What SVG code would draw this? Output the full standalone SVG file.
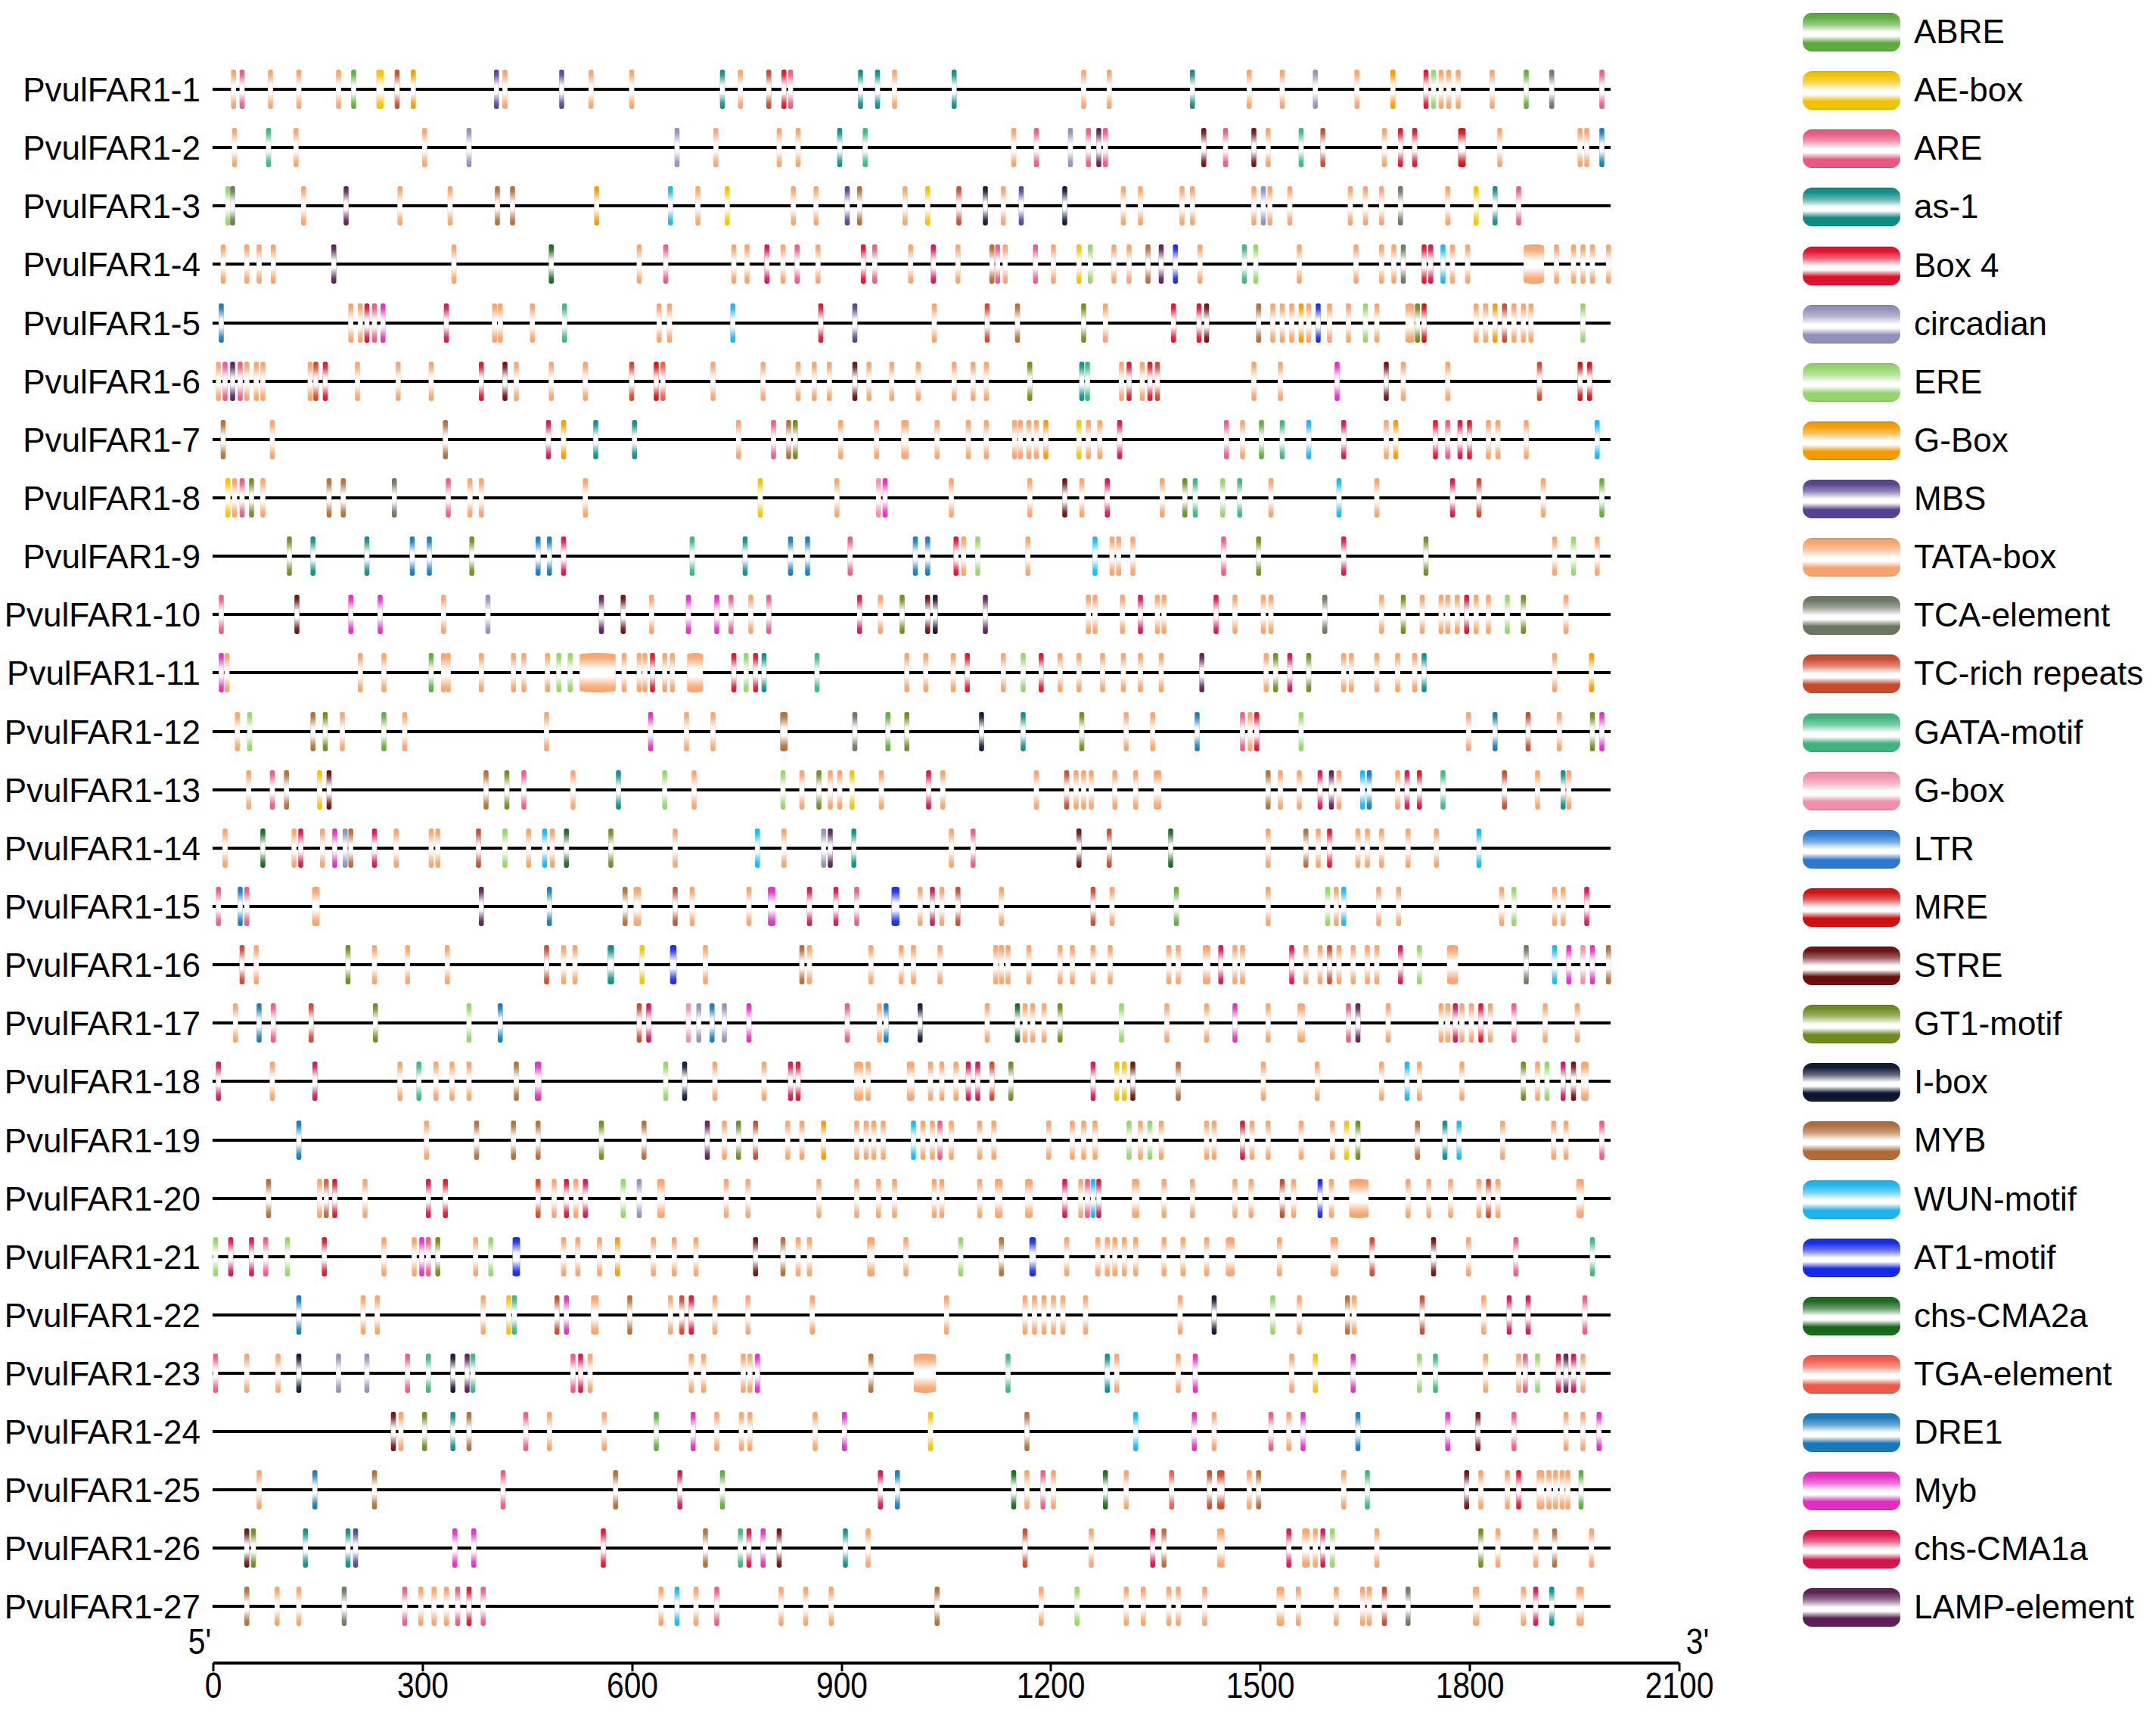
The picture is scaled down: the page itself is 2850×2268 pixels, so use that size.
<svg xmlns="http://www.w3.org/2000/svg" xmlns:xlink="http://www.w3.org/1999/xlink" width="2850" height="2268" viewBox="0 0 2850 2268">
<style>
text{font-family:"Liberation Sans",Arial,sans-serif;fill:#000}
.lb{font-size:44px;text-anchor:end}
.lg{font-size:44px}
.ax{font-size:48px;text-anchor:middle}
.ln{stroke:#000;stroke-width:4}
.a{fill:#5cab3c}.b{fill:#f2c200}.c{fill:#e85a80}.d{fill:#0e8c84}.e{fill:#e0102a}.f{fill:#9090b8}.g{fill:#94d46a}.h{fill:#f59a00}.i{fill:#54428f}.j{fill:#f6a36c}.k{fill:#6a7560}.l{fill:#c8482a}.m{fill:#3cb47c}.n{fill:#f090aa}.o{fill:#2a78d0}.p{fill:#cc1010}.q{fill:#6a0e0e}.r{fill:#6d8a1e}.s{fill:#0c1530}.t{fill:#b06c38}.u{fill:#1cb4ec}.v{fill:#1428e8}.w{fill:#18661c}.x{fill:#f05848}.y{fill:#1678b8}.z{fill:#e02cc0}.A{fill:#d4144c}.B{fill:#5a1e52}
</style>
<defs>
<linearGradient id="wg" x1="0" y1="0" x2="0" y2="1">
<stop offset="0" stop-color="#fff" stop-opacity="0"/>
<stop offset="0.14" stop-color="#fff" stop-opacity="0.12"/>
<stop offset="0.41" stop-color="#fff" stop-opacity="1"/>
<stop offset="0.59" stop-color="#fff" stop-opacity="1"/>
<stop offset="0.86" stop-color="#fff" stop-opacity="0.12"/>
<stop offset="1" stop-color="#fff" stop-opacity="0"/>
</linearGradient>
<linearGradient id="lgw" x1="0" y1="0" x2="0" y2="1">
<stop offset="0" stop-color="#000" stop-opacity="0.15"/>
<stop offset="0.1" stop-color="#fff" stop-opacity="0"/>
<stop offset="0.3" stop-color="#fff" stop-opacity="0.35"/>
<stop offset="0.5" stop-color="#fff" stop-opacity="1"/>
<stop offset="0.6" stop-color="#fff" stop-opacity="1"/>
<stop offset="0.78" stop-color="#fff" stop-opacity="0"/>
<stop offset="0.92" stop-color="#fff" stop-opacity="0"/>
<stop offset="1" stop-color="#000" stop-opacity="0.15"/>
</linearGradient>
<g id="mk"><rect x="-2.6" y="-26" width="5.2" height="52" rx="2.4"/><rect x="-2.6" y="-26" width="5.2" height="52" rx="2.4" fill="url(#wg)"/></g>
</defs>
<rect width="2850" height="2268" fill="#fff"/>

<g id="rows">
<g id="row-1"><text class="lb" x="265" y="134">PvulFAR1-1</text><line class="ln" x1="281" y1="118" x2="2129" y2="118"/>
<g transform="translate(270 118) scale(1.25 1)">
<use href="#mk" x="31" class="j"/><use href="#mk" x="40" class="c"/><use href="#mk" x="70" class="j"/><use href="#mk" x="100" class="j"/><use href="#mk" x="142" class="j"/><use href="#mk" x="158" class="a"/><use href="#mk" class="b" transform="translate(186 0) scale(1.5 1)"/><use href="#mk" x="204" class="l"/><use href="#mk" x="221" class="h"/><use href="#mk" x="309" class="i"/><use href="#mk" x="318" class="j"/><use href="#mk" x="378" class="i"/><use href="#mk" x="409" class="j"/><use href="#mk" x="452" class="j"/><use href="#mk" x="548" class="d"/><use href="#mk" x="567" class="j"/><use href="#mk" x="597" class="l"/><use href="#mk" x="613" class="e"/><use href="#mk" x="620" class="c"/><use href="#mk" x="694" class="d"/><use href="#mk" x="712" class="d"/><use href="#mk" x="730" class="j"/><use href="#mk" x="793" class="d"/><use href="#mk" x="930" class="j"/><use href="#mk" x="957" class="j"/><use href="#mk" x="1045" class="d"/><use href="#mk" x="1105" class="j"/><use href="#mk" x="1140" class="j"/><use href="#mk" x="1175" class="f"/><use href="#mk" x="1219" class="j"/><use href="#mk" x="1257" class="h"/><use href="#mk" x="1292" class="e"/><use href="#mk" x="1300" class="g"/><use href="#mk" x="1308" class="j"/><use href="#mk" x="1316" class="j"/><use href="#mk" x="1326" class="j"/><use href="#mk" x="1362" class="j"/><use href="#mk" x="1398" class="a"/><use href="#mk" x="1425" class="k"/><use href="#mk" x="1478" class="c"/>
</g></g>

<g id="row-2"><text class="lb" x="265" y="211">PvulFAR1-2</text><line class="ln" x1="281" y1="195" x2="2129" y2="195"/>
<g transform="translate(270 195) scale(1.25 1)">
<use href="#mk" x="32" class="j"/><use href="#mk" x="68" class="m"/><use href="#mk" x="97" class="j"/><use href="#mk" x="233" class="j"/><use href="#mk" x="280" class="f"/><use href="#mk" x="500" class="f"/><use href="#mk" x="541" class="j"/><use href="#mk" x="608" class="j"/><use href="#mk" x="628" class="j"/><use href="#mk" x="672" class="d"/><use href="#mk" x="699" class="m"/><use href="#mk" x="856" class="j"/><use href="#mk" x="880" class="c"/><use href="#mk" x="916" class="f"/><use href="#mk" x="935" class="c"/><use href="#mk" x="946" class="B"/><use href="#mk" x="953" class="c"/><use href="#mk" x="1057" class="q"/><use href="#mk" x="1080" class="c"/><use href="#mk" x="1110" class="q"/><use href="#mk" x="1125" class="j"/><use href="#mk" x="1160" class="m"/><use href="#mk" x="1183" class="l"/><use href="#mk" x="1248" class="j"/><use href="#mk" x="1265" class="e"/><use href="#mk" x="1280" class="e"/><use href="#mk" class="p" transform="translate(1330 0) scale(1.5 1)"/><use href="#mk" x="1370" class="j"/><use href="#mk" x="1455" class="j"/><use href="#mk" x="1462" class="j"/><use href="#mk" x="1478" class="y"/>
</g></g>

<g id="row-3"><text class="lb" x="265" y="288">PvulFAR1-3</text><line class="ln" x1="281" y1="272" x2="2129" y2="272"/>
<g transform="translate(270 272) scale(1.25 1)">
<use href="#mk" x="25" class="g"/><use href="#mk" x="30" class="k"/><use href="#mk" x="105" class="j"/><use href="#mk" x="150" class="B"/><use href="#mk" x="207" class="j"/><use href="#mk" x="260" class="j"/><use href="#mk" x="310" class="t"/><use href="#mk" x="326" class="t"/><use href="#mk" x="415" class="h"/><use href="#mk" x="493" class="u"/><use href="#mk" x="522" class="j"/><use href="#mk" x="553" class="b"/><use href="#mk" x="623" class="j"/><use href="#mk" x="647" class="j"/><use href="#mk" x="680" class="i"/><use href="#mk" x="693" class="t"/><use href="#mk" x="741" class="j"/><use href="#mk" x="765" class="b"/><use href="#mk" x="798" class="l"/><use href="#mk" x="826" class="s"/><use href="#mk" x="845" class="j"/><use href="#mk" x="864" class="i"/><use href="#mk" x="910" class="s"/><use href="#mk" x="972" class="j"/><use href="#mk" x="990" class="j"/><use href="#mk" x="1034" class="j"/><use href="#mk" x="1045" class="j"/><use href="#mk" x="1110" class="j"/><use href="#mk" x="1120" class="f"/><use href="#mk" x="1127" class="j"/><use href="#mk" x="1148" class="j"/><use href="#mk" x="1212" class="j"/><use href="#mk" x="1228" class="j"/><use href="#mk" x="1245" class="j"/><use href="#mk" x="1265" class="k"/><use href="#mk" x="1315" class="j"/><use href="#mk" x="1345" class="b"/><use href="#mk" x="1365" class="d"/><use href="#mk" x="1390" class="c"/>
</g></g>

<g id="row-4"><text class="lb" x="265" y="365">PvulFAR1-4</text><line class="ln" x1="281" y1="349" x2="2129" y2="349"/>
<g transform="translate(270 349) scale(1.25 1)">
<use href="#mk" x="20" class="j"/><use href="#mk" x="45" class="j"/><use href="#mk" x="58" class="j"/><use href="#mk" x="73" class="j"/><use href="#mk" x="137" class="B"/><use href="#mk" x="264" class="j"/><use href="#mk" x="367" class="w"/><use href="#mk" x="460" class="j"/><use href="#mk" x="488" class="c"/><use href="#mk" x="560" class="j"/><use href="#mk" x="574" class="j"/><use href="#mk" x="595" class="A"/><use href="#mk" x="612" class="j"/><use href="#mk" x="627" class="c"/><use href="#mk" x="649" class="j"/><use href="#mk" x="697" class="e"/><use href="#mk" x="709" class="c"/><use href="#mk" x="747" class="j"/><use href="#mk" x="771" class="A"/><use href="#mk" x="797" class="j"/><use href="#mk" x="833" class="t"/><use href="#mk" x="839" class="c"/><use href="#mk" x="847" class="j"/><use href="#mk" x="879" class="c"/><use href="#mk" x="898" class="j"/><use href="#mk" x="925" class="b"/><use href="#mk" x="937" class="g"/><use href="#mk" x="962" class="j"/><use href="#mk" x="978" class="j"/><use href="#mk" x="998" class="t"/><use href="#mk" x="1012" class="B"/><use href="#mk" x="1027" class="v"/><use href="#mk" x="1053" class="j"/><use href="#mk" x="1100" class="m"/><use href="#mk" x="1112" class="g"/><use href="#mk" x="1158" class="j"/><use href="#mk" x="1218" class="j"/><use href="#mk" x="1245" class="j"/><use href="#mk" x="1258" class="j"/><use href="#mk" x="1268" class="k"/><use href="#mk" x="1290" class="e"/><use href="#mk" x="1297" class="A"/><use href="#mk" x="1310" class="u"/><use href="#mk" x="1320" class="j"/><use href="#mk" x="1336" class="j"/><use href="#mk" class="j" transform="translate(1406 0) scale(4.1 1)"/><use href="#mk" x="1430" class="j"/><use href="#mk" x="1448" class="j"/><use href="#mk" x="1458" class="j"/><use href="#mk" x="1468" class="j"/><use href="#mk" x="1485" class="j"/>
</g></g>

<g id="row-5"><text class="lb" x="265" y="443">PvulFAR1-5</text><line class="ln" x1="281" y1="427" x2="2129" y2="427"/>
<g transform="translate(270 427) scale(1.25 1)">
<use href="#mk" x="18" class="y"/><use href="#mk" x="155" class="j"/><use href="#mk" x="165" class="j"/><use href="#mk" x="172" class="e"/><use href="#mk" x="180" class="c"/><use href="#mk" x="189" class="z"/><use href="#mk" x="256" class="A"/><use href="#mk" x="307" class="j"/><use href="#mk" x="313" class="j"/><use href="#mk" x="347" class="j"/><use href="#mk" x="381" class="m"/><use href="#mk" x="481" class="j"/><use href="#mk" x="492" class="j"/><use href="#mk" x="559" class="u"/><use href="#mk" x="652" class="e"/><use href="#mk" x="688" class="i"/><use href="#mk" x="772" class="j"/><use href="#mk" x="828" class="l"/><use href="#mk" x="860" class="t"/><use href="#mk" x="930" class="r"/><use href="#mk" x="953" class="j"/><use href="#mk" x="1025" class="e"/><use href="#mk" x="1052" class="e"/><use href="#mk" x="1060" class="q"/><use href="#mk" x="1115" class="t"/><use href="#mk" x="1130" class="j"/><use href="#mk" x="1140" class="j"/><use href="#mk" x="1150" class="j"/><use href="#mk" x="1160" class="h"/><use href="#mk" x="1168" class="j"/><use href="#mk" x="1178" class="v"/><use href="#mk" x="1190" class="j"/><use href="#mk" x="1210" class="j"/><use href="#mk" x="1228" class="g"/><use href="#mk" x="1240" class="j"/><use href="#mk" class="j" transform="translate(1275 0) scale(1.8 1)"/><use href="#mk" x="1283" class="r"/><use href="#mk" x="1290" class="p"/><use href="#mk" x="1345" class="j"/><use href="#mk" x="1355" class="j"/><use href="#mk" x="1365" class="h"/><use href="#mk" x="1375" class="l"/><use href="#mk" x="1385" class="j"/><use href="#mk" x="1395" class="j"/><use href="#mk" x="1403" class="j"/><use href="#mk" x="1458" class="g"/>
</g></g>

<g id="row-6"><text class="lb" x="265" y="520">PvulFAR1-6</text><line class="ln" x1="281" y1="504" x2="2129" y2="504"/>
<g transform="translate(270 504) scale(1.25 1)">
<use href="#mk" x="15" class="j"/><use href="#mk" x="22" class="c"/><use href="#mk" x="30" class="B"/><use href="#mk" x="38" class="c"/><use href="#mk" x="45" class="j"/><use href="#mk" x="55" class="j"/><use href="#mk" x="62" class="j"/><use href="#mk" x="112" class="j"/><use href="#mk" x="118" class="l"/><use href="#mk" x="128" class="e"/><use href="#mk" x="162" class="j"/><use href="#mk" x="205" class="j"/><use href="#mk" x="240" class="j"/><use href="#mk" x="293" class="e"/><use href="#mk" x="318" class="q"/><use href="#mk" x="330" class="j"/><use href="#mk" x="367" class="j"/><use href="#mk" x="403" class="j"/><use href="#mk" x="452" class="l"/><use href="#mk" x="478" class="p"/><use href="#mk" x="485" class="x"/><use href="#mk" x="538" class="j"/><use href="#mk" x="591" class="j"/><use href="#mk" x="628" class="j"/><use href="#mk" x="645" class="j"/><use href="#mk" x="661" class="j"/><use href="#mk" x="688" class="q"/><use href="#mk" x="703" class="j"/><use href="#mk" x="727" class="j"/><use href="#mk" x="755" class="j"/><use href="#mk" x="793" class="j"/><use href="#mk" x="813" class="j"/><use href="#mk" x="827" class="j"/><use href="#mk" x="873" class="r"/><use href="#mk" x="928" class="d"/><use href="#mk" x="934" class="m"/><use href="#mk" x="970" class="j"/><use href="#mk" x="978" class="e"/><use href="#mk" x="992" class="j"/><use href="#mk" x="1000" class="e"/><use href="#mk" x="1008" class="l"/><use href="#mk" x="1110" class="j"/><use href="#mk" x="1138" class="j"/><use href="#mk" x="1198" class="z"/><use href="#mk" x="1250" class="q"/><use href="#mk" x="1268" class="j"/><use href="#mk" x="1315" class="j"/><use href="#mk" x="1412" class="l"/><use href="#mk" x="1455" class="p"/><use href="#mk" x="1465" class="p"/>
</g></g>

<g id="row-7"><text class="lb" x="265" y="597">PvulFAR1-7</text><line class="ln" x1="281" y1="581" x2="2129" y2="581"/>
<g transform="translate(270 581) scale(1.25 1)">
<use href="#mk" x="20" class="t"/><use href="#mk" x="72" class="j"/><use href="#mk" x="255" class="t"/><use href="#mk" x="364" class="A"/><use href="#mk" x="380" class="h"/><use href="#mk" x="414" class="d"/><use href="#mk" x="455" class="d"/><use href="#mk" x="565" class="j"/><use href="#mk" x="602" class="c"/><use href="#mk" x="618" class="t"/><use href="#mk" x="625" class="r"/><use href="#mk" x="673" class="j"/><use href="#mk" x="711" class="j"/><use href="#mk" class="j" transform="translate(741 0) scale(1.5 1)"/><use href="#mk" x="775" class="j"/><use href="#mk" x="808" class="j"/><use href="#mk" x="827" class="j"/><use href="#mk" x="857" class="j"/><use href="#mk" x="863" class="j"/><use href="#mk" x="872" class="j"/><use href="#mk" x="880" class="j"/><use href="#mk" x="890" class="h"/><use href="#mk" x="925" class="b"/><use href="#mk" x="935" class="j"/><use href="#mk" x="947" class="j"/><use href="#mk" x="968" class="A"/><use href="#mk" x="1081" class="c"/><use href="#mk" x="1098" class="j"/><use href="#mk" x="1118" class="a"/><use href="#mk" x="1140" class="m"/><use href="#mk" x="1168" class="u"/><use href="#mk" x="1205" class="A"/><use href="#mk" x="1250" class="j"/><use href="#mk" x="1260" class="h"/><use href="#mk" x="1302" class="e"/><use href="#mk" x="1315" class="c"/><use href="#mk" x="1328" class="A"/><use href="#mk" x="1338" class="e"/><use href="#mk" x="1358" class="j"/><use href="#mk" x="1368" class="j"/><use href="#mk" x="1398" class="j"/><use href="#mk" x="1473" class="u"/>
</g></g>

<g id="row-8"><text class="lb" x="265" y="674">PvulFAR1-8</text><line class="ln" x1="281" y1="658" x2="2129" y2="658"/>
<g transform="translate(270 658) scale(1.25 1)">
<use href="#mk" x="25" class="b"/><use href="#mk" x="32" class="j"/><use href="#mk" x="40" class="c"/><use href="#mk" x="50" class="r"/><use href="#mk" x="62" class="j"/><use href="#mk" x="132" class="t"/><use href="#mk" x="147" class="t"/><use href="#mk" x="201" class="k"/><use href="#mk" x="258" class="c"/><use href="#mk" x="281" class="j"/><use href="#mk" x="293" class="j"/><use href="#mk" x="403" class="j"/><use href="#mk" x="588" class="b"/><use href="#mk" x="669" class="j"/><use href="#mk" x="713" class="n"/><use href="#mk" x="720" class="z"/><use href="#mk" x="790" class="j"/><use href="#mk" x="873" class="j"/><use href="#mk" x="910" class="q"/><use href="#mk" x="928" class="j"/><use href="#mk" x="955" class="A"/><use href="#mk" x="1013" class="j"/><use href="#mk" x="1037" class="r"/><use href="#mk" x="1048" class="m"/><use href="#mk" x="1077" class="g"/><use href="#mk" x="1095" class="m"/><use href="#mk" x="1128" class="j"/><use href="#mk" x="1200" class="u"/><use href="#mk" x="1240" class="j"/><use href="#mk" x="1320" class="A"/><use href="#mk" x="1348" class="l"/><use href="#mk" x="1416" class="j"/><use href="#mk" x="1478" class="a"/>
</g></g>

<g id="row-9"><text class="lb" x="265" y="751">PvulFAR1-9</text><line class="ln" x1="281" y1="735" x2="2129" y2="735"/>
<g transform="translate(270 735) scale(1.25 1)">
<use href="#mk" x="90" class="r"/><use href="#mk" x="115" class="d"/><use href="#mk" x="172" class="d"/><use href="#mk" x="220" class="y"/><use href="#mk" x="238" class="y"/><use href="#mk" x="283" class="r"/><use href="#mk" x="353" class="y"/><use href="#mk" x="365" class="y"/><use href="#mk" x="380" class="A"/><use href="#mk" x="516" class="m"/><use href="#mk" x="572" class="d"/><use href="#mk" x="620" class="y"/><use href="#mk" x="638" class="y"/><use href="#mk" x="683" class="c"/><use href="#mk" x="752" class="y"/><use href="#mk" x="765" class="y"/><use href="#mk" x="795" class="e"/><use href="#mk" x="803" class="j"/><use href="#mk" x="818" class="g"/><use href="#mk" x="871" class="j"/><use href="#mk" x="942" class="u"/><use href="#mk" x="960" class="j"/><use href="#mk" x="967" class="j"/><use href="#mk" x="982" class="j"/><use href="#mk" x="1078" class="c"/><use href="#mk" x="1115" class="r"/><use href="#mk" x="1205" class="A"/><use href="#mk" x="1292" class="r"/><use href="#mk" x="1428" class="j"/><use href="#mk" x="1448" class="g"/><use href="#mk" x="1473" class="j"/>
</g></g>

<g id="row-10"><text class="lb" x="265" y="828">PvulFAR1-10</text><line class="ln" x1="281" y1="812" x2="2129" y2="812"/>
<g transform="translate(270 812) scale(1.25 1)">
<use href="#mk" x="18" class="c"/><use href="#mk" x="98" class="q"/><use href="#mk" x="155" class="z"/><use href="#mk" x="186" class="z"/><use href="#mk" x="253" class="j"/><use href="#mk" x="300" class="f"/><use href="#mk" x="420" class="B"/><use href="#mk" x="443" class="q"/><use href="#mk" x="473" class="j"/><use href="#mk" x="512" class="z"/><use href="#mk" x="542" class="z"/><use href="#mk" x="557" class="c"/><use href="#mk" x="578" class="j"/><use href="#mk" x="597" class="c"/><use href="#mk" x="693" class="A"/><use href="#mk" x="715" class="j"/><use href="#mk" x="738" class="r"/><use href="#mk" x="765" class="q"/><use href="#mk" x="773" class="s"/><use href="#mk" x="826" class="B"/><use href="#mk" x="935" class="j"/><use href="#mk" x="942" class="j"/><use href="#mk" x="971" class="j"/><use href="#mk" x="990" class="A"/><use href="#mk" x="1008" class="j"/><use href="#mk" x="1015" class="j"/><use href="#mk" x="1070" class="A"/><use href="#mk" x="1090" class="j"/><use href="#mk" x="1120" class="j"/><use href="#mk" x="1128" class="j"/><use href="#mk" x="1185" class="k"/><use href="#mk" x="1245" class="j"/><use href="#mk" x="1268" class="r"/><use href="#mk" x="1288" class="j"/><use href="#mk" x="1308" class="j"/><use href="#mk" x="1315" class="j"/><use href="#mk" x="1325" class="j"/><use href="#mk" x="1335" class="e"/><use href="#mk" x="1345" class="j"/><use href="#mk" x="1358" class="j"/><use href="#mk" x="1378" class="g"/><use href="#mk" x="1395" class="r"/><use href="#mk" x="1440" class="j"/>
</g></g>

<g id="row-11"><text class="lb" x="265" y="905">PvulFAR1-11</text><line class="ln" x1="281" y1="889" x2="2129" y2="889"/>
<g transform="translate(270 889) scale(1.25 1)">
<use href="#mk" x="18" class="z"/><use href="#mk" x="24" class="j"/><use href="#mk" x="165" class="j"/><use href="#mk" x="190" class="j"/><use href="#mk" x="240" class="a"/><use href="#mk" x="253" class="j"/><use href="#mk" x="258" class="j"/><use href="#mk" x="293" class="j"/><use href="#mk" x="327" class="j"/><use href="#mk" x="338" class="j"/><use href="#mk" x="363" class="j"/><use href="#mk" x="375" class="g"/><use href="#mk" x="387" class="g"/><use href="#mk" class="j" transform="translate(416 0) scale(7.3 1)"/><use href="#mk" x="444" class="j"/><use href="#mk" x="460" class="j"/><use href="#mk" x="466" class="j"/><use href="#mk" x="474" class="e"/><use href="#mk" x="487" class="j"/><use href="#mk" x="495" class="j"/><use href="#mk" class="j" transform="translate(519 0) scale(3.2 1)"/><use href="#mk" x="560" class="e"/><use href="#mk" x="573" class="g"/><use href="#mk" x="583" class="e"/><use href="#mk" x="592" class="d"/><use href="#mk" x="648" class="m"/><use href="#mk" x="743" class="j"/><use href="#mk" x="763" class="j"/><use href="#mk" x="792" class="j"/><use href="#mk" x="807" class="e"/><use href="#mk" x="845" class="j"/><use href="#mk" x="866" class="g"/><use href="#mk" x="885" class="e"/><use href="#mk" x="905" class="j"/><use href="#mk" x="925" class="j"/><use href="#mk" x="950" class="j"/><use href="#mk" x="972" class="j"/><use href="#mk" x="990" class="j"/><use href="#mk" x="1012" class="j"/><use href="#mk" x="1055" class="B"/><use href="#mk" x="1123" class="j"/><use href="#mk" x="1133" class="r"/><use href="#mk" x="1148" class="A"/><use href="#mk" x="1168" class="r"/><use href="#mk" x="1205" class="j"/><use href="#mk" x="1213" class="j"/><use href="#mk" x="1240" class="j"/><use href="#mk" x="1262" class="j"/><use href="#mk" x="1280" class="j"/><use href="#mk" x="1290" class="d"/><use href="#mk" x="1428" class="j"/><use href="#mk" x="1467" class="h"/>
</g></g>

<g id="row-12"><text class="lb" x="265" y="983">PvulFAR1-12</text><line class="ln" x1="281" y1="967" x2="2129" y2="967"/>
<g transform="translate(270 967) scale(1.25 1)">
<use href="#mk" x="35" class="j"/><use href="#mk" x="48" class="g"/><use href="#mk" x="115" class="t"/><use href="#mk" x="128" class="r"/><use href="#mk" x="146" class="j"/><use href="#mk" x="190" class="a"/><use href="#mk" x="212" class="j"/><use href="#mk" x="362" class="j"/><use href="#mk" x="472" class="z"/><use href="#mk" x="510" class="j"/><use href="#mk" x="538" class="j"/><use href="#mk" class="t" transform="translate(613 0) scale(1.5 1)"/><use href="#mk" x="688" class="k"/><use href="#mk" x="723" class="a"/><use href="#mk" x="743" class="r"/><use href="#mk" x="822" class="s"/><use href="#mk" x="866" class="d"/><use href="#mk" x="928" class="r"/><use href="#mk" x="975" class="j"/><use href="#mk" x="1003" class="j"/><use href="#mk" x="1050" class="y"/><use href="#mk" x="1098" class="c"/><use href="#mk" x="1106" class="j"/><use href="#mk" x="1113" class="e"/><use href="#mk" x="1160" class="g"/><use href="#mk" x="1337" class="j"/><use href="#mk" x="1365" class="y"/><use href="#mk" x="1400" class="l"/><use href="#mk" x="1433" class="j"/><use href="#mk" x="1468" class="r"/><use href="#mk" x="1478" class="z"/>
</g></g>

<g id="row-13"><text class="lb" x="265" y="1060">PvulFAR1-13</text><line class="ln" x1="281" y1="1044" x2="2129" y2="1044"/>
<g transform="translate(270 1044) scale(1.25 1)">
<use href="#mk" x="47" class="j"/><use href="#mk" x="72" class="c"/><use href="#mk" x="87" class="t"/><use href="#mk" x="122" class="b"/><use href="#mk" x="132" class="q"/><use href="#mk" x="298" class="t"/><use href="#mk" x="320" class="r"/><use href="#mk" x="338" class="c"/><use href="#mk" x="390" class="j"/><use href="#mk" x="438" class="d"/><use href="#mk" x="487" class="g"/><use href="#mk" x="518" class="j"/><use href="#mk" x="612" class="g"/><use href="#mk" x="632" class="j"/><use href="#mk" x="650" class="r"/><use href="#mk" x="662" class="j"/><use href="#mk" x="672" class="j"/><use href="#mk" x="685" class="b"/><use href="#mk" x="716" class="j"/><use href="#mk" x="766" class="A"/><use href="#mk" x="781" class="j"/><use href="#mk" x="880" class="j"/><use href="#mk" x="912" class="l"/><use href="#mk" x="922" class="j"/><use href="#mk" x="930" class="j"/><use href="#mk" x="938" class="j"/><use href="#mk" x="963" class="j"/><use href="#mk" x="985" class="j"/><use href="#mk" class="j" transform="translate(1008 0) scale(1.5 1)"/><use href="#mk" x="1125" class="t"/><use href="#mk" x="1138" class="j"/><use href="#mk" x="1158" class="j"/><use href="#mk" x="1180" class="A"/><use href="#mk" x="1192" class="B"/><use href="#mk" x="1200" class="j"/><use href="#mk" x="1225" class="u"/><use href="#mk" x="1232" class="y"/><use href="#mk" x="1262" class="j"/><use href="#mk" x="1272" class="A"/><use href="#mk" x="1285" class="e"/><use href="#mk" x="1310" class="m"/><use href="#mk" x="1375" class="l"/><use href="#mk" x="1410" class="j"/><use href="#mk" x="1437" class="d"/><use href="#mk" x="1443" class="j"/>
</g></g>

<g id="row-14"><text class="lb" x="265" y="1137">PvulFAR1-14</text><line class="ln" x1="281" y1="1121" x2="2129" y2="1121"/>
<g transform="translate(270 1121) scale(1.25 1)">
<use href="#mk" x="22" class="j"/><use href="#mk" x="62" class="w"/><use href="#mk" x="95" class="j"/><use href="#mk" x="102" class="A"/><use href="#mk" x="125" class="j"/><use href="#mk" x="138" class="z"/><use href="#mk" x="149" class="f"/><use href="#mk" x="155" class="t"/><use href="#mk" x="180" class="A"/><use href="#mk" x="203" class="j"/><use href="#mk" x="240" class="j"/><use href="#mk" x="247" class="j"/><use href="#mk" x="290" class="l"/><use href="#mk" x="318" class="g"/><use href="#mk" x="343" class="j"/><use href="#mk" x="360" class="u"/><use href="#mk" x="368" class="j"/><use href="#mk" x="383" class="w"/><use href="#mk" x="430" class="r"/><use href="#mk" x="498" class="j"/><use href="#mk" x="585" class="u"/><use href="#mk" x="613" class="j"/><use href="#mk" x="655" class="f"/><use href="#mk" x="662" class="B"/><use href="#mk" x="687" class="d"/><use href="#mk" x="790" class="j"/><use href="#mk" x="813" class="c"/><use href="#mk" x="925" class="q"/><use href="#mk" x="957" class="l"/><use href="#mk" x="1022" class="w"/><use href="#mk" x="1125" class="j"/><use href="#mk" x="1165" class="t"/><use href="#mk" x="1178" class="j"/><use href="#mk" x="1190" class="e"/><use href="#mk" x="1220" class="j"/><use href="#mk" x="1230" class="j"/><use href="#mk" x="1245" class="j"/><use href="#mk" x="1273" class="j"/><use href="#mk" x="1303" class="j"/><use href="#mk" x="1348" class="u"/>
</g></g>

<g id="row-15"><text class="lb" x="265" y="1214">PvulFAR1-15</text><line class="ln" x1="281" y1="1198" x2="2129" y2="1198"/>
<g transform="translate(270 1198) scale(1.25 1)">
<use href="#mk" x="15" class="c"/><use href="#mk" x="38" class="y"/><use href="#mk" x="45" class="c"/><use href="#mk" class="j" transform="translate(118 0) scale(1.5 1)"/><use href="#mk" x="293" class="B"/><use href="#mk" x="365" class="y"/><use href="#mk" x="445" class="t"/><use href="#mk" class="j" transform="translate(458 0) scale(1.5 1)"/><use href="#mk" x="498" class="l"/><use href="#mk" x="516" class="j"/><use href="#mk" x="576" class="j"/><use href="#mk" class="z" transform="translate(600 0) scale(1.5 1)"/><use href="#mk" x="640" class="A"/><use href="#mk" x="668" class="A"/><use href="#mk" x="690" class="c"/><use href="#mk" class="v" transform="translate(731 0) scale(1.6 1)"/><use href="#mk" x="757" class="j"/><use href="#mk" x="770" class="A"/><use href="#mk" x="780" class="j"/><use href="#mk" x="797" class="l"/><use href="#mk" x="843" class="j"/><use href="#mk" x="940" class="l"/><use href="#mk" x="960" class="j"/><use href="#mk" x="1028" class="a"/><use href="#mk" x="1125" class="j"/><use href="#mk" x="1188" class="g"/><use href="#mk" x="1197" class="j"/><use href="#mk" x="1205" class="u"/><use href="#mk" x="1242" class="j"/><use href="#mk" x="1263" class="j"/><use href="#mk" x="1372" class="j"/><use href="#mk" x="1385" class="g"/><use href="#mk" x="1428" class="j"/><use href="#mk" x="1437" class="j"/><use href="#mk" x="1462" class="A"/>
</g></g>

<g id="row-16"><text class="lb" x="265" y="1291">PvulFAR1-16</text><line class="ln" x1="281" y1="1275" x2="2129" y2="1275"/>
<g transform="translate(270 1275) scale(1.25 1)">
<use href="#mk" x="40" class="l"/><use href="#mk" x="55" class="j"/><use href="#mk" x="152" class="r"/><use href="#mk" x="180" class="j"/><use href="#mk" x="215" class="j"/><use href="#mk" x="257" class="j"/><use href="#mk" x="362" class="l"/><use href="#mk" x="380" class="j"/><use href="#mk" x="392" class="j"/><use href="#mk" class="d" transform="translate(430 0) scale(1.3 1)"/><use href="#mk" x="463" class="b"/><use href="#mk" class="v" transform="translate(496 0) scale(1.3 1)"/><use href="#mk" x="530" class="j"/><use href="#mk" x="632" class="t"/><use href="#mk" x="640" class="j"/><use href="#mk" x="705" class="j"/><use href="#mk" x="737" class="j"/><use href="#mk" x="750" class="j"/><use href="#mk" x="778" class="j"/><use href="#mk" x="837" class="j"/><use href="#mk" x="843" class="j"/><use href="#mk" x="850" class="j"/><use href="#mk" x="872" class="j"/><use href="#mk" x="905" class="j"/><use href="#mk" x="918" class="j"/><use href="#mk" x="940" class="j"/><use href="#mk" x="958" class="j"/><use href="#mk" x="1020" class="j"/><use href="#mk" x="1030" class="j"/><use href="#mk" class="j" transform="translate(1060 0) scale(1.5 1)"/><use href="#mk" x="1075" class="A"/><use href="#mk" x="1090" class="j"/><use href="#mk" x="1098" class="j"/><use href="#mk" x="1150" class="A"/><use href="#mk" x="1165" class="j"/><use href="#mk" x="1180" class="j"/><use href="#mk" x="1190" class="l"/><use href="#mk" x="1200" class="j"/><use href="#mk" x="1215" class="j"/><use href="#mk" x="1230" class="j"/><use href="#mk" x="1240" class="j"/><use href="#mk" x="1265" class="A"/><use href="#mk" x="1285" class="g"/><use href="#mk" class="j" transform="translate(1320 0) scale(2.2 1)"/><use href="#mk" x="1398" class="k"/><use href="#mk" x="1428" class="u"/><use href="#mk" x="1443" class="z"/><use href="#mk" x="1458" class="n"/><use href="#mk" x="1468" class="z"/><use href="#mk" x="1485" class="t"/>
</g></g>

<g id="row-17"><text class="lb" x="265" y="1368">PvulFAR1-17</text><line class="ln" x1="281" y1="1352" x2="2129" y2="1352"/>
<g transform="translate(270 1352) scale(1.25 1)">
<use href="#mk" x="33" class="j"/><use href="#mk" x="58" class="y"/><use href="#mk" x="73" class="c"/><use href="#mk" x="113" class="l"/><use href="#mk" x="181" class="r"/><use href="#mk" x="280" class="g"/><use href="#mk" x="313" class="y"/><use href="#mk" x="460" class="l"/><use href="#mk" x="470" class="A"/><use href="#mk" x="512" class="n"/><use href="#mk" x="523" class="f"/><use href="#mk" x="537" class="y"/><use href="#mk" x="550" class="f"/><use href="#mk" x="576" class="z"/><use href="#mk" x="680" class="c"/><use href="#mk" x="714" class="j"/><use href="#mk" x="721" class="y"/><use href="#mk" x="757" class="s"/><use href="#mk" x="828" class="j"/><use href="#mk" x="860" class="w"/><use href="#mk" x="868" class="j"/><use href="#mk" x="876" class="j"/><use href="#mk" x="888" class="j"/><use href="#mk" x="905" class="r"/><use href="#mk" x="970" class="g"/><use href="#mk" x="1018" class="j"/><use href="#mk" x="1060" class="j"/><use href="#mk" x="1090" class="z"/><use href="#mk" x="1125" class="j"/><use href="#mk" class="j" transform="translate(1160 0) scale(1.5 1)"/><use href="#mk" x="1210" class="c"/><use href="#mk" x="1220" class="B"/><use href="#mk" x="1252" class="j"/><use href="#mk" x="1308" class="j"/><use href="#mk" x="1315" class="j"/><use href="#mk" x="1323" class="A"/><use href="#mk" x="1330" class="j"/><use href="#mk" x="1340" class="j"/><use href="#mk" x="1350" class="e"/><use href="#mk" x="1360" class="j"/><use href="#mk" x="1385" class="c"/><use href="#mk" x="1418" class="j"/><use href="#mk" x="1452" class="j"/>
</g></g>

<g id="row-18"><text class="lb" x="265" y="1445">PvulFAR1-18</text><line class="ln" x1="281" y1="1429" x2="2129" y2="1429"/>
<g transform="translate(270 1429) scale(1.25 1)">
<use href="#mk" x="15" class="A"/><use href="#mk" x="72" class="j"/><use href="#mk" x="117" class="A"/><use href="#mk" x="207" class="j"/><use href="#mk" x="227" class="m"/><use href="#mk" x="245" class="j"/><use href="#mk" x="262" class="j"/><use href="#mk" x="280" class="j"/><use href="#mk" x="330" class="t"/><use href="#mk" class="z" transform="translate(353 0) scale(1.3 1)"/><use href="#mk" x="488" class="g"/><use href="#mk" x="508" class="s"/><use href="#mk" x="540" class="j"/><use href="#mk" x="592" class="j"/><use href="#mk" x="620" class="A"/><use href="#mk" x="628" class="e"/><use href="#mk" class="j" transform="translate(692 0) scale(1.8 1)"/><use href="#mk" x="702" class="j"/><use href="#mk" class="j" transform="translate(747 0) scale(1.5 1)"/><use href="#mk" x="768" class="j"/><use href="#mk" x="780" class="j"/><use href="#mk" x="795" class="j"/><use href="#mk" x="808" class="A"/><use href="#mk" x="818" class="A"/><use href="#mk" x="833" class="l"/><use href="#mk" x="853" class="r"/><use href="#mk" x="940" class="A"/><use href="#mk" x="965" class="b"/><use href="#mk" x="973" class="b"/><use href="#mk" x="982" class="q"/><use href="#mk" x="1030" class="t"/><use href="#mk" x="1120" class="j"/><use href="#mk" x="1177" class="j"/><use href="#mk" x="1245" class="j"/><use href="#mk" x="1272" class="u"/><use href="#mk" x="1285" class="j"/><use href="#mk" x="1330" class="j"/><use href="#mk" x="1395" class="r"/><use href="#mk" x="1410" class="j"/><use href="#mk" x="1420" class="g"/><use href="#mk" x="1437" class="A"/><use href="#mk" x="1448" class="q"/><use href="#mk" class="j" transform="translate(1460 0) scale(1.5 1)"/>
</g></g>

<g id="row-19"><text class="lb" x="265" y="1523">PvulFAR1-19</text><line class="ln" x1="281" y1="1507" x2="2129" y2="1507"/>
<g transform="translate(270 1507) scale(1.25 1)">
<use href="#mk" x="100" class="y"/><use href="#mk" x="235" class="j"/><use href="#mk" x="288" class="t"/><use href="#mk" x="327" class="t"/><use href="#mk" x="353" class="t"/><use href="#mk" x="420" class="r"/><use href="#mk" x="465" class="t"/><use href="#mk" x="532" class="B"/><use href="#mk" x="550" class="j"/><use href="#mk" x="565" class="r"/><use href="#mk" x="583" class="l"/><use href="#mk" x="617" class="j"/><use href="#mk" x="632" class="j"/><use href="#mk" x="655" class="h"/><use href="#mk" x="690" class="j"/><use href="#mk" x="700" class="j"/><use href="#mk" x="708" class="j"/><use href="#mk" x="718" class="j"/><use href="#mk" x="750" class="u"/><use href="#mk" x="760" class="j"/><use href="#mk" x="770" class="j"/><use href="#mk" x="778" class="c"/><use href="#mk" x="790" class="j"/><use href="#mk" x="820" class="j"/><use href="#mk" x="835" class="j"/><use href="#mk" x="893" class="j"/><use href="#mk" x="918" class="j"/><use href="#mk" x="930" class="j"/><use href="#mk" x="942" class="j"/><use href="#mk" x="978" class="g"/><use href="#mk" x="990" class="j"/><use href="#mk" x="1000" class="g"/><use href="#mk" x="1012" class="j"/><use href="#mk" x="1060" class="j"/><use href="#mk" x="1068" class="j"/><use href="#mk" x="1098" class="e"/><use href="#mk" x="1108" class="j"/><use href="#mk" x="1125" class="j"/><use href="#mk" x="1160" class="j"/><use href="#mk" x="1193" class="j"/><use href="#mk" x="1208" class="b"/><use href="#mk" x="1220" class="r"/><use href="#mk" x="1283" class="t"/><use href="#mk" x="1312" class="d"/><use href="#mk" x="1327" class="u"/><use href="#mk" x="1373" class="j"/><use href="#mk" x="1427" class="j"/><use href="#mk" x="1440" class="j"/><use href="#mk" x="1478" class="c"/>
</g></g>

<g id="row-20"><text class="lb" x="265" y="1600">PvulFAR1-20</text><line class="ln" x1="281" y1="1584" x2="2129" y2="1584"/>
<g transform="translate(270 1584) scale(1.25 1)">
<use href="#mk" x="68" class="t"/><use href="#mk" x="122" class="j"/><use href="#mk" x="129" class="t"/><use href="#mk" x="138" class="e"/><use href="#mk" x="170" class="j"/><use href="#mk" x="237" class="A"/><use href="#mk" x="255" class="e"/><use href="#mk" x="353" class="l"/><use href="#mk" x="370" class="j"/><use href="#mk" x="383" class="e"/><use href="#mk" x="393" class="j"/><use href="#mk" x="403" class="A"/><use href="#mk" x="443" class="g"/><use href="#mk" x="460" class="f"/><use href="#mk" class="j" transform="translate(483 0) scale(1.5 1)"/><use href="#mk" x="552" class="j"/><use href="#mk" x="575" class="j"/><use href="#mk" x="650" class="j"/><use href="#mk" x="690" class="j"/><use href="#mk" x="713" class="j"/><use href="#mk" x="730" class="j"/><use href="#mk" x="772" class="j"/><use href="#mk" x="780" class="j"/><use href="#mk" x="820" class="j"/><use href="#mk" class="j" transform="translate(840 0) scale(1.5 1)"/><use href="#mk" class="j" transform="translate(872 0) scale(1.5 1)"/><use href="#mk" x="910" class="A"/><use href="#mk" x="927" class="j"/><use href="#mk" x="934" class="c"/><use href="#mk" x="940" class="u"/><use href="#mk" x="946" class="A"/><use href="#mk" class="j" transform="translate(985 0) scale(1.5 1)"/><use href="#mk" x="1015" class="j"/><use href="#mk" x="1045" class="j"/><use href="#mk" x="1090" class="j"/><use href="#mk" x="1107" class="j"/><use href="#mk" x="1140" class="l"/><use href="#mk" x="1152" class="j"/><use href="#mk" x="1180" class="v"/><use href="#mk" x="1192" class="j"/><use href="#mk" class="j" transform="translate(1221 0) scale(3.9 1)"/><use href="#mk" x="1273" class="j"/><use href="#mk" x="1295" class="j"/><use href="#mk" x="1318" class="j"/><use href="#mk" x="1348" class="j"/><use href="#mk" x="1358" class="l"/><use href="#mk" x="1368" class="j"/><use href="#mk" class="j" transform="translate(1455 0) scale(1.5 1)"/>
</g></g>

<g id="row-21"><text class="lb" x="265" y="1677">PvulFAR1-21</text><line class="ln" x1="281" y1="1661" x2="2129" y2="1661"/>
<g transform="translate(270 1661) scale(1.25 1)">
<use href="#mk" x="12" class="g"/><use href="#mk" x="28" class="A"/><use href="#mk" x="50" class="A"/><use href="#mk" x="65" class="c"/><use href="#mk" x="88" class="g"/><use href="#mk" x="127" class="e"/><use href="#mk" x="190" class="j"/><use href="#mk" x="222" class="j"/><use href="#mk" x="230" class="z"/><use href="#mk" x="237" class="c"/><use href="#mk" x="247" class="r"/><use href="#mk" x="287" class="j"/><use href="#mk" x="303" class="g"/><use href="#mk" class="v" transform="translate(330 0) scale(1.5 1)"/><use href="#mk" x="380" class="j"/><use href="#mk" x="395" class="j"/><use href="#mk" x="418" class="j"/><use href="#mk" x="437" class="h"/><use href="#mk" x="475" class="j"/><use href="#mk" x="497" class="j"/><use href="#mk" x="520" class="j"/><use href="#mk" x="583" class="q"/><use href="#mk" x="612" class="t"/><use href="#mk" x="628" class="j"/><use href="#mk" x="640" class="j"/><use href="#mk" class="j" transform="translate(705 0) scale(1.5 1)"/><use href="#mk" x="742" class="j"/><use href="#mk" x="800" class="g"/><use href="#mk" x="843" class="t"/><use href="#mk" class="v" transform="translate(876 0) scale(1.3 1)"/><use href="#mk" x="912" class="j"/><use href="#mk" x="945" class="j"/><use href="#mk" x="955" class="j"/><use href="#mk" x="963" class="j"/><use href="#mk" x="973" class="j"/><use href="#mk" x="985" class="j"/><use href="#mk" x="1015" class="j"/><use href="#mk" x="1035" class="j"/><use href="#mk" x="1060" class="j"/><use href="#mk" class="j" transform="translate(1085 0) scale(1.8 1)"/><use href="#mk" x="1137" class="j"/><use href="#mk" class="j" transform="translate(1195 0) scale(1.5 1)"/><use href="#mk" x="1235" class="l"/><use href="#mk" x="1300" class="q"/><use href="#mk" x="1337" class="j"/><use href="#mk" x="1387" class="c"/><use href="#mk" x="1468" class="m"/>
</g></g>

<g id="row-22"><text class="lb" x="265" y="1754">PvulFAR1-22</text><line class="ln" x1="281" y1="1738" x2="2129" y2="1738"/>
<g transform="translate(270 1738) scale(1.25 1)">
<use href="#mk" x="100" class="y"/><use href="#mk" x="168" class="j"/><use href="#mk" x="183" class="j"/><use href="#mk" x="295" class="j"/><use href="#mk" x="322" class="b"/><use href="#mk" x="328" class="m"/><use href="#mk" x="373" class="l"/><use href="#mk" x="383" class="z"/><use href="#mk" class="j" transform="translate(413 0) scale(1.5 1)"/><use href="#mk" x="450" class="t"/><use href="#mk" x="493" class="j"/><use href="#mk" x="505" class="l"/><use href="#mk" x="515" class="e"/><use href="#mk" x="540" class="j"/><use href="#mk" x="575" class="j"/><use href="#mk" x="643" class="j"/><use href="#mk" x="785" class="j"/><use href="#mk" x="868" class="j"/><use href="#mk" x="878" class="j"/><use href="#mk" x="888" class="j"/><use href="#mk" x="898" class="j"/><use href="#mk" x="908" class="j"/><use href="#mk" x="932" class="j"/><use href="#mk" x="1032" class="j"/><use href="#mk" x="1068" class="s"/><use href="#mk" x="1130" class="g"/><use href="#mk" x="1158" class="j"/><use href="#mk" x="1209" class="t"/><use href="#mk" x="1216" class="j"/><use href="#mk" x="1288" class="l"/><use href="#mk" x="1353" class="j"/><use href="#mk" x="1380" class="A"/><use href="#mk" x="1400" class="A"/><use href="#mk" x="1460" class="c"/>
</g></g>

<g id="row-23"><text class="lb" x="265" y="1831">PvulFAR1-23</text><line class="ln" x1="281" y1="1815" x2="2129" y2="1815"/>
<g transform="translate(270 1815) scale(1.25 1)">
<use href="#mk" x="12" class="c"/><use href="#mk" x="45" class="j"/><use href="#mk" x="78" class="j"/><use href="#mk" x="100" class="s"/><use href="#mk" x="142" class="f"/><use href="#mk" x="172" class="f"/><use href="#mk" x="215" class="c"/><use href="#mk" x="237" class="m"/><use href="#mk" x="263" class="s"/><use href="#mk" x="278" class="B"/><use href="#mk" x="284" class="m"/><use href="#mk" x="390" class="c"/><use href="#mk" x="398" class="A"/><use href="#mk" x="408" class="j"/><use href="#mk" x="515" class="j"/><use href="#mk" x="528" class="j"/><use href="#mk" x="570" class="j"/><use href="#mk" x="577" class="j"/><use href="#mk" x="585" class="z"/><use href="#mk" x="705" class="t"/><use href="#mk" class="j" transform="translate(762 0) scale(4.5 1)"/><use href="#mk" x="850" class="m"/><use href="#mk" x="955" class="d"/><use href="#mk" x="965" class="j"/><use href="#mk" x="1030" class="j"/><use href="#mk" x="1048" class="z"/><use href="#mk" x="1150" class="j"/><use href="#mk" x="1175" class="b"/><use href="#mk" x="1215" class="z"/><use href="#mk" x="1285" class="g"/><use href="#mk" x="1302" class="m"/><use href="#mk" x="1355" class="j"/><use href="#mk" x="1390" class="j"/><use href="#mk" x="1397" class="c"/><use href="#mk" x="1410" class="g"/><use href="#mk" x="1432" class="A"/><use href="#mk" x="1440" class="B"/><use href="#mk" x="1448" class="A"/><use href="#mk" x="1458" class="j"/>
</g></g>

<g id="row-24"><text class="lb" x="265" y="1908">PvulFAR1-24</text><line class="ln" x1="281" y1="1892" x2="2129" y2="1892"/>
<g transform="translate(270 1892) scale(1.25 1)">
<use href="#mk" x="200" class="q"/><use href="#mk" x="208" class="j"/><use href="#mk" x="233" class="r"/><use href="#mk" x="263" class="d"/><use href="#mk" x="280" class="t"/><use href="#mk" x="340" class="c"/><use href="#mk" x="365" class="j"/><use href="#mk" x="423" class="j"/><use href="#mk" x="478" class="a"/><use href="#mk" x="517" class="z"/><use href="#mk" x="542" class="j"/><use href="#mk" x="568" class="j"/><use href="#mk" x="577" class="j"/><use href="#mk" x="646" class="j"/><use href="#mk" x="677" class="z"/><use href="#mk" x="768" class="b"/><use href="#mk" x="870" class="t"/><use href="#mk" x="985" class="u"/><use href="#mk" x="1047" class="z"/><use href="#mk" x="1068" class="j"/><use href="#mk" x="1128" class="c"/><use href="#mk" x="1147" class="j"/><use href="#mk" x="1162" class="z"/><use href="#mk" x="1220" class="y"/><use href="#mk" x="1315" class="z"/><use href="#mk" x="1347" class="q"/><use href="#mk" x="1385" class="c"/><use href="#mk" x="1440" class="j"/><use href="#mk" x="1458" class="j"/><use href="#mk" x="1475" class="z"/>
</g></g>

<g id="row-25"><text class="lb" x="265" y="1985">PvulFAR1-25</text><line class="ln" x1="281" y1="1969" x2="2129" y2="1969"/>
<g transform="translate(270 1969) scale(1.25 1)">
<use href="#mk" x="58" class="j"/><use href="#mk" x="117" class="y"/><use href="#mk" x="180" class="t"/><use href="#mk" x="316" class="c"/><use href="#mk" x="435" class="t"/><use href="#mk" x="503" class="A"/><use href="#mk" x="548" class="a"/><use href="#mk" x="715" class="A"/><use href="#mk" x="733" class="y"/><use href="#mk" x="856" class="w"/><use href="#mk" x="870" class="j"/><use href="#mk" x="887" class="c"/><use href="#mk" x="898" class="j"/><use href="#mk" x="953" class="w"/><use href="#mk" x="975" class="j"/><use href="#mk" x="1023" class="x"/><use href="#mk" x="1063" class="l"/><use href="#mk" class="l" transform="translate(1075 0) scale(1.5 1)"/><use href="#mk" x="1105" class="j"/><use href="#mk" x="1115" class="t"/><use href="#mk" x="1205" class="j"/><use href="#mk" x="1230" class="m"/><use href="#mk" x="1335" class="q"/><use href="#mk" x="1350" class="j"/><use href="#mk" x="1378" class="j"/><use href="#mk" x="1390" class="e"/><use href="#mk" class="j" transform="translate(1413 0) scale(1.5 1)"/><use href="#mk" x="1422" class="j"/><use href="#mk" x="1429" class="j"/><use href="#mk" x="1436" class="j"/><use href="#mk" x="1442" class="j"/><use href="#mk" x="1456" class="a"/>
</g></g>

<g id="row-26"><text class="lb" x="265" y="2062">PvulFAR1-26</text><line class="ln" x1="281" y1="2046" x2="2129" y2="2046"/>
<g transform="translate(270 2046) scale(1.25 1)">
<use href="#mk" x="45" class="q"/><use href="#mk" x="52" class="r"/><use href="#mk" x="107" class="d"/><use href="#mk" x="152" class="d"/><use href="#mk" x="160" class="i"/><use href="#mk" x="265" class="z"/><use href="#mk" x="285" class="z"/><use href="#mk" x="422" class="e"/><use href="#mk" x="530" class="t"/><use href="#mk" x="567" class="m"/><use href="#mk" x="576" class="A"/><use href="#mk" x="591" class="z"/><use href="#mk" x="608" class="q"/><use href="#mk" x="678" class="d"/><use href="#mk" x="702" class="j"/><use href="#mk" x="868" class="l"/><use href="#mk" x="938" class="j"/><use href="#mk" x="1003" class="A"/><use href="#mk" x="1015" class="t"/><use href="#mk" class="j" transform="translate(1075 0) scale(1.5 1)"/><use href="#mk" x="1147" class="A"/><use href="#mk" class="j" transform="translate(1165 0) scale(1.5 1)"/><use href="#mk" x="1175" class="j"/><use href="#mk" x="1183" class="A"/><use href="#mk" x="1193" class="g"/><use href="#mk" x="1240" class="j"/><use href="#mk" x="1350" class="r"/><use href="#mk" x="1368" class="j"/><use href="#mk" x="1408" class="j"/><use href="#mk" x="1428" class="t"/><use href="#mk" x="1467" class="j"/>
</g></g>

<g id="row-27"><text class="lb" x="265" y="2139">PvulFAR1-27</text><line class="ln" x1="281" y1="2123" x2="2129" y2="2123"/>
<g transform="translate(270 2123) scale(1.25 1)">
<use href="#mk" x="45" class="t"/><use href="#mk" x="77" class="j"/><use href="#mk" x="100" class="j"/><use href="#mk" x="148" class="k"/><use href="#mk" x="212" class="c"/><use href="#mk" x="229" class="j"/><use href="#mk" x="243" class="j"/><use href="#mk" x="256" class="j"/><use href="#mk" x="268" class="c"/><use href="#mk" x="280" class="e"/><use href="#mk" x="295" class="c"/><use href="#mk" x="483" class="j"/><use href="#mk" x="500" class="u"/><use href="#mk" x="520" class="j"/><use href="#mk" x="542" class="c"/><use href="#mk" x="610" class="j"/><use href="#mk" x="636" class="j"/><use href="#mk" x="663" class="j"/><use href="#mk" x="775" class="t"/><use href="#mk" x="885" class="j"/><use href="#mk" x="923" class="g"/><use href="#mk" x="975" class="j"/><use href="#mk" x="993" class="j"/><use href="#mk" x="1020" class="j"/><use href="#mk" x="1030" class="j"/><use href="#mk" x="1058" class="j"/><use href="#mk" class="j" transform="translate(1138 0) scale(1.5 1)"/><use href="#mk" x="1157" class="j"/><use href="#mk" x="1197" class="j"/><use href="#mk" x="1225" class="j"/><use href="#mk" x="1232" class="j"/><use href="#mk" x="1248" class="l"/><use href="#mk" x="1273" class="k"/><use href="#mk" class="j" transform="translate(1345 0) scale(1.3 1)"/><use href="#mk" x="1395" class="j"/><use href="#mk" x="1408" class="A"/><use href="#mk" x="1425" class="d"/><use href="#mk" class="j" transform="translate(1455 0) scale(1.5 1)"/>
</g></g>
</g>

<g id="axis">
<line class="ln" x1="282" y1="2198" x2="2220" y2="2198"/>
<path d="M282 2198v11M559 2198v11M836 2198v11M1113 2198v11M1389 2198v11M1666 2198v11M1943 2198v11M2220 2198v11" stroke="#000" stroke-width="3"/>
<text class="ax" transform="translate(264 2186) scale(0.85 1)">5'</text>
<text class="ax" transform="translate(2244 2186) scale(0.85 1)">3'</text>
<text class="ax" transform="translate(282 2244) scale(0.85 1)">0</text>
<text class="ax" transform="translate(559 2244) scale(0.85 1)">300</text>
<text class="ax" transform="translate(836 2244) scale(0.85 1)">600</text>
<text class="ax" transform="translate(1113 2244) scale(0.85 1)">900</text>
<text class="ax" transform="translate(1389 2244) scale(0.85 1)">1200</text>
<text class="ax" transform="translate(1666 2244) scale(0.85 1)">1500</text>
<text class="ax" transform="translate(1943 2244) scale(0.85 1)">1800</text>
<text class="ax" transform="translate(2220 2244) scale(0.85 1)">2100</text>
</g>

<g id="legend">
<g id="lg-1"><rect class="a" x="2383" y="17" width="129" height="51" rx="12"/><rect x="2383" y="17" width="129" height="51" rx="12" fill="url(#lgw)"/><text class="lg" x="2530" y="57">ABRE</text></g>
<g id="lg-2"><rect class="b" x="2383" y="94" width="129" height="51" rx="12"/><rect x="2383" y="94" width="129" height="51" rx="12" fill="url(#lgw)"/><text class="lg" x="2530" y="134">AE-box</text></g>
<g id="lg-3"><rect class="c" x="2383" y="171" width="129" height="51" rx="12"/><rect x="2383" y="171" width="129" height="51" rx="12" fill="url(#lgw)"/><text class="lg" x="2530" y="211">ARE</text></g>
<g id="lg-4"><rect class="d" x="2383" y="248" width="129" height="51" rx="12"/><rect x="2383" y="248" width="129" height="51" rx="12" fill="url(#lgw)"/><text class="lg" x="2530" y="288">as-1</text></g>
<g id="lg-5"><rect class="e" x="2383" y="326" width="129" height="51" rx="12"/><rect x="2383" y="326" width="129" height="51" rx="12" fill="url(#lgw)"/><text class="lg" x="2530" y="366">Box 4</text></g>
<g id="lg-6"><rect class="f" x="2383" y="403" width="129" height="51" rx="12"/><rect x="2383" y="403" width="129" height="51" rx="12" fill="url(#lgw)"/><text class="lg" x="2530" y="443">circadian</text></g>
<g id="lg-7"><rect class="g" x="2383" y="480" width="129" height="51" rx="12"/><rect x="2383" y="480" width="129" height="51" rx="12" fill="url(#lgw)"/><text class="lg" x="2530" y="520">ERE</text></g>
<g id="lg-8"><rect class="h" x="2383" y="557" width="129" height="51" rx="12"/><rect x="2383" y="557" width="129" height="51" rx="12" fill="url(#lgw)"/><text class="lg" x="2530" y="597">G-Box</text></g>
<g id="lg-9"><rect class="i" x="2383" y="634" width="129" height="51" rx="12"/><rect x="2383" y="634" width="129" height="51" rx="12" fill="url(#lgw)"/><text class="lg" x="2530" y="674">MBS</text></g>
<g id="lg-10"><rect class="j" x="2383" y="711" width="129" height="51" rx="12"/><rect x="2383" y="711" width="129" height="51" rx="12" fill="url(#lgw)"/><text class="lg" x="2530" y="751">TATA-box</text></g>
<g id="lg-11"><rect class="k" x="2383" y="788" width="129" height="51" rx="12"/><rect x="2383" y="788" width="129" height="51" rx="12" fill="url(#lgw)"/><text class="lg" x="2530" y="828">TCA-element</text></g>
<g id="lg-12"><rect class="l" x="2383" y="865" width="129" height="51" rx="12"/><rect x="2383" y="865" width="129" height="51" rx="12" fill="url(#lgw)"/><text class="lg" x="2530" y="905">TC-rich repeats</text></g>
<g id="lg-13"><rect class="m" x="2383" y="943" width="129" height="51" rx="12"/><rect x="2383" y="943" width="129" height="51" rx="12" fill="url(#lgw)"/><text class="lg" x="2530" y="983">GATA-motif</text></g>
<g id="lg-14"><rect class="n" x="2383" y="1020" width="129" height="51" rx="12"/><rect x="2383" y="1020" width="129" height="51" rx="12" fill="url(#lgw)"/><text class="lg" x="2530" y="1060">G-box</text></g>
<g id="lg-15"><rect class="o" x="2383" y="1097" width="129" height="51" rx="12"/><rect x="2383" y="1097" width="129" height="51" rx="12" fill="url(#lgw)"/><text class="lg" x="2530" y="1137">LTR</text></g>
<g id="lg-16"><rect class="p" x="2383" y="1174" width="129" height="51" rx="12"/><rect x="2383" y="1174" width="129" height="51" rx="12" fill="url(#lgw)"/><text class="lg" x="2530" y="1214">MRE</text></g>
<g id="lg-17"><rect class="q" x="2383" y="1251" width="129" height="51" rx="12"/><rect x="2383" y="1251" width="129" height="51" rx="12" fill="url(#lgw)"/><text class="lg" x="2530" y="1291">STRE</text></g>
<g id="lg-18"><rect class="r" x="2383" y="1328" width="129" height="51" rx="12"/><rect x="2383" y="1328" width="129" height="51" rx="12" fill="url(#lgw)"/><text class="lg" x="2530" y="1368">GT1-motif</text></g>
<g id="lg-19"><rect class="s" x="2383" y="1405" width="129" height="51" rx="12"/><rect x="2383" y="1405" width="129" height="51" rx="12" fill="url(#lgw)"/><text class="lg" x="2530" y="1445">I-box</text></g>
<g id="lg-20"><rect class="t" x="2383" y="1482" width="129" height="51" rx="12"/><rect x="2383" y="1482" width="129" height="51" rx="12" fill="url(#lgw)"/><text class="lg" x="2530" y="1522">MYB</text></g>
<g id="lg-21"><rect class="u" x="2383" y="1560" width="129" height="51" rx="12"/><rect x="2383" y="1560" width="129" height="51" rx="12" fill="url(#lgw)"/><text class="lg" x="2530" y="1600">WUN-motif</text></g>
<g id="lg-22"><rect class="v" x="2383" y="1637" width="129" height="51" rx="12"/><rect x="2383" y="1637" width="129" height="51" rx="12" fill="url(#lgw)"/><text class="lg" x="2530" y="1677">AT1-motif</text></g>
<g id="lg-23"><rect class="w" x="2383" y="1714" width="129" height="51" rx="12"/><rect x="2383" y="1714" width="129" height="51" rx="12" fill="url(#lgw)"/><text class="lg" x="2530" y="1754">chs-CMA2a</text></g>
<g id="lg-24"><rect class="x" x="2383" y="1791" width="129" height="51" rx="12"/><rect x="2383" y="1791" width="129" height="51" rx="12" fill="url(#lgw)"/><text class="lg" x="2530" y="1831">TGA-element</text></g>
<g id="lg-25"><rect class="y" x="2383" y="1868" width="129" height="51" rx="12"/><rect x="2383" y="1868" width="129" height="51" rx="12" fill="url(#lgw)"/><text class="lg" x="2530" y="1908">DRE1</text></g>
<g id="lg-26"><rect class="z" x="2383" y="1945" width="129" height="51" rx="12"/><rect x="2383" y="1945" width="129" height="51" rx="12" fill="url(#lgw)"/><text class="lg" x="2530" y="1985">Myb</text></g>
<g id="lg-27"><rect class="A" x="2383" y="2022" width="129" height="51" rx="12"/><rect x="2383" y="2022" width="129" height="51" rx="12" fill="url(#lgw)"/><text class="lg" x="2530" y="2062">chs-CMA1a</text></g>
<g id="lg-28"><rect class="B" x="2383" y="2099" width="129" height="51" rx="12"/><rect x="2383" y="2099" width="129" height="51" rx="12" fill="url(#lgw)"/><text class="lg" x="2530" y="2139">LAMP-element</text></g>
</g>
</svg>
